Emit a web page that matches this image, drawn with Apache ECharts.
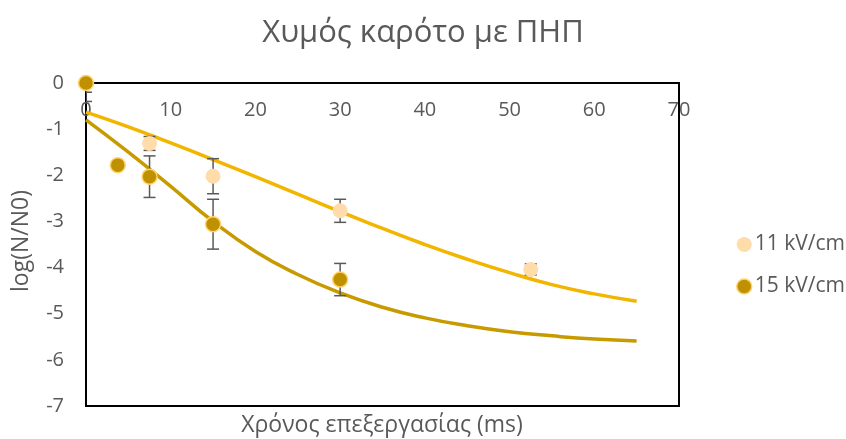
<!DOCTYPE html>
<html>
<head>
<meta charset="utf-8">
<script src="https://cdn.jsdelivr.net/npm/echarts@6/dist/echarts.min.js"></script>
<style>
  html, body { margin: 0; padding: 0; background: #fff; }
  #chart { width: 846px; height: 439px; }
</style>
</head>
<body>
<div id="chart"></div>
<script>
// Measured log reductions per treatment time (ms), with error half-widths
const times11 = [0, 7.5, 15, 30, 52.5];
const log11 = [0, -1.31, -2.02, -2.77, -4.04];
const err11 = [0.2, 0.15, 0.38, 0.25, 0.12];

const times15 = [0, 3.75, 7.5, 15, 30];
const log15 = [0, -1.78, -2.03, -3.06, -4.26];
const err15 = [0.4, 0, 0.45, 0.54, 0.35];

// Fitted trend curves
const trendX = [0, 5, 10, 15, 20, 25, 30, 35, 40, 45, 50, 55, 60, 65];
const trend11 = [-0.63, -0.95, -1.30, -1.66, -2.03, -2.41, -2.79, -3.15, -3.50, -3.82, -4.11, -4.37, -4.57, -4.73];
const trend15 = [-0.80, -1.50, -2.24, -3.00, -3.65, -4.15, -4.55, -4.86, -5.09, -5.26, -5.39, -5.48, -5.55, -5.59];

// Axis ranges
const xRange = { min: 0, max: 70, step: 10 };
const yRange = { min: -7, max: 0, step: 1 };

const labels = {
  title: 'Χυμός καρότο με ΠΗΠ',
  xName: 'Χρόνος επεξεργασίας (ms)',
  yName: 'log(N/N0)',
  s11: '11 kV/cm',
  s15: '15 kV/cm'
};

const FONT = '"Open Sans", "Noto Sans", sans-serif';
const TEXT = '#595959';

const pairs = (xs, ys) => xs.map((x, i) => [x, ys[i]]);
const bars = (xs, ys, es) => xs
  .map((x, i) => [x, ys[i] - es[i], ys[i] + es[i]])
  .filter((d, i) => es[i] > 0);

function errorBar(params, api) {
  const x = api.value(0);
  const lo = api.coord([x, api.value(1)]);
  const hi = api.coord([x, api.value(2)]);
  const cap = 6;
  const style = { stroke: '#595959', lineWidth: 1.5 };
  return {
    type: 'group',
    children: [
      { type: 'line', shape: { x1: hi[0], y1: hi[1], x2: lo[0], y2: lo[1] }, style },
      { type: 'line', shape: { x1: hi[0] - cap, y1: hi[1], x2: hi[0] + cap, y2: hi[1] }, style },
      { type: 'line', shape: { x1: lo[0] - cap, y1: lo[1], x2: lo[0] + cap, y2: lo[1] }, style }
    ]
  };
}

const chart = echarts.init(document.getElementById('chart'), null, { renderer: 'canvas' });

chart.setOption({
  animation: false,
  backgroundColor: '#fff',
  textStyle: { fontFamily: FONT },
  title: {
    text: labels.title,
    left: 'center',
    top: 13,
    textStyle: { fontFamily: FONT, fontSize: 31, fontWeight: 'normal', color: TEXT }
  },
  graphic: [
    {
      type: 'text', x: 382, y: 425,
      style: { text: labels.xName, font: '23px ' + FONT, fill: TEXT, textAlign: 'center', textVerticalAlign: 'middle' }
    },
    {
      type: 'text', x: 21, y: 241, rotation: Math.PI / 2,
      style: { text: labels.yName, font: '23px ' + FONT, fill: TEXT, textAlign: 'center', textVerticalAlign: 'middle' }
    }
  ],
  legend: {
    data: [labels.s11, labels.s15],
    orient: 'vertical',
    left: 731,
    top: 229,
    itemGap: 21,
    itemWidth: 15,
    itemHeight: 15,
    itemStyle: { borderWidth: 1.5 },
    icon: 'circle',
    textStyle: { fontFamily: FONT, fontSize: 21, color: TEXT, padding: [0, 0, 0, -2] }
  },
  grid: {
    left: 86, right: 167, top: 83, bottom: 33,
    show: true, borderColor: '#000', borderWidth: 2, backgroundColor: 'transparent'
  },
  xAxis: {
    type: 'value',
    position: 'top',
    min: xRange.min, max: xRange.max, interval: xRange.step,
    axisLine: { onZero: false, lineStyle: { color: '#000', width: 2 } },
    axisTick: { show: false },
    splitLine: { show: false },
    axisLabel: { inside: true, color: TEXT, fontSize: 20, margin: 17, fontFamily: FONT }
  },
  yAxis: {
    type: 'value',
    min: yRange.min, max: yRange.max, interval: yRange.step,
    axisLine: { show: true, onZero: false, lineStyle: { color: '#000', width: 2 } },
    axisTick: { show: false },
    splitLine: { show: false },
    axisLabel: { color: TEXT, fontSize: 20, margin: 22, fontFamily: FONT }
  },
  series: [
    {
      name: 'trend 11', type: 'line', smooth: true, showSymbol: false, z: 2,
      data: pairs(trendX, trend11),
      lineStyle: { color: '#F2B500', width: 3.5 }, silent: true
    },
    {
      name: 'trend 15', type: 'line', smooth: true, showSymbol: false, z: 2,
      data: pairs(trendX, trend15),
      lineStyle: { color: '#C79A00', width: 3.5 }, silent: true
    },
    {
      name: 'err 11', type: 'custom', renderItem: errorBar, clip: true, z: 3,
      data: bars(times11, log11, err11), encode: { x: 0, y: [1, 2] }
    },
    {
      name: 'err 15', type: 'custom', renderItem: errorBar, clip: true, z: 3,
      data: bars(times15, log15, err15), encode: { x: 0, y: [1, 2] }
    },
    {
      name: labels.s11, type: 'scatter', symbolSize: 15, z: 4,
      data: pairs(times11, log11),
      itemStyle: { color: '#FFDCA9', opacity: 1 }
    },
    {
      name: labels.s15, type: 'scatter', symbolSize: 15, z: 5,
      data: pairs(times15, log15),
      itemStyle: { color: '#BF9000', borderColor: '#FFD36B', borderWidth: 1.5, opacity: 1 }
    }
  ]
});
</script>
</body>
</html>
